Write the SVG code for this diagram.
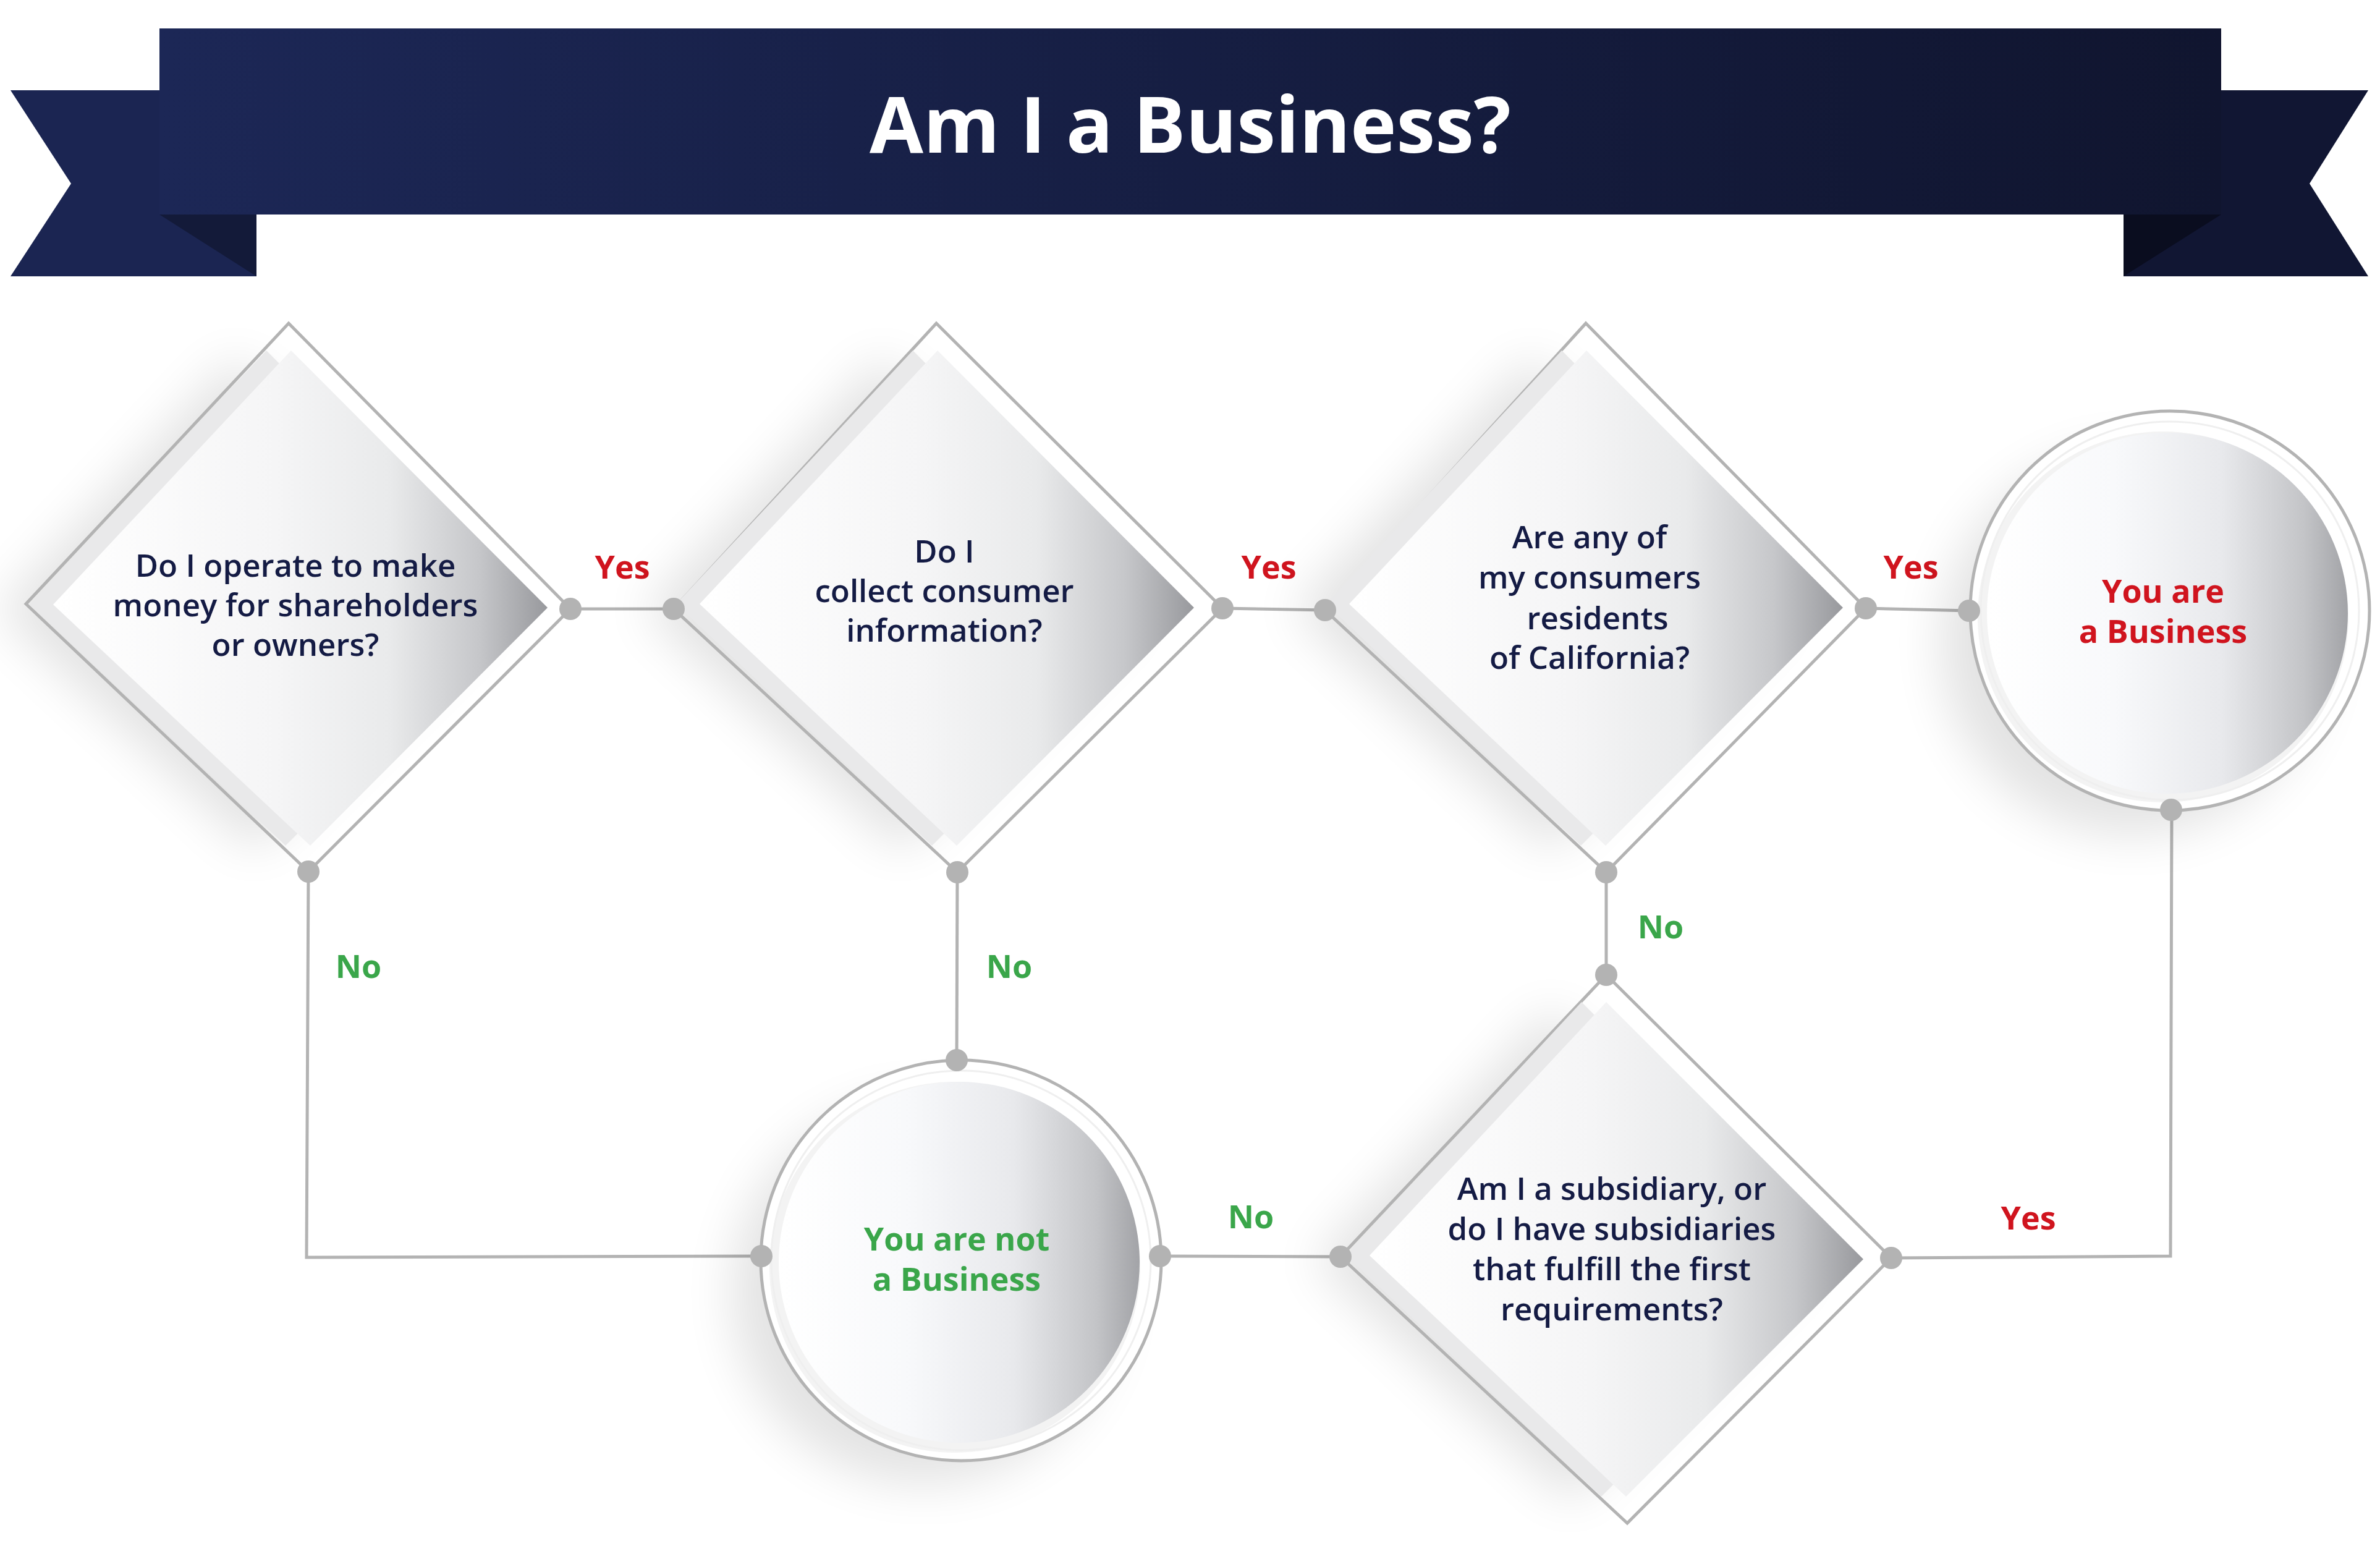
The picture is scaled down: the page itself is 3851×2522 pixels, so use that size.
<svg xmlns="http://www.w3.org/2000/svg" width="3851" height="2522" viewBox="0 0 3851 2522">
<defs>
<linearGradient id="bannerGrad" x1="0" y1="0" x2="1" y2="0">
<stop offset="0" stop-color="#1c2756"/>
<stop offset="1" stop-color="#10152f"/>
</linearGradient>
<linearGradient id="faceGrad" x1="0" y1="0" x2="1" y2="0">
<stop offset="0" stop-color="#ffffff"/>
<stop offset="0.45" stop-color="#f5f5f6"/>
<stop offset="0.68" stop-color="#e9eaeb"/>
<stop offset="0.86" stop-color="#c6c7ca"/>
<stop offset="1" stop-color="#98999d"/>
</linearGradient>
<linearGradient id="circleGrad" x1="0" y1="0" x2="1" y2="0">
<stop offset="0" stop-color="#ffffff"/>
<stop offset="0.35" stop-color="#f8f9fb"/>
<stop offset="0.65" stop-color="#e8e9ec"/>
<stop offset="0.88" stop-color="#c3c4c7"/>
<stop offset="1" stop-color="#a2a3a7"/>
</linearGradient>
<filter id="shadow" x="-50%" y="-50%" width="200%" height="200%">
<feGaussianBlur stdDeviation="40"/>
</filter>
<style>
.outline{fill:none;stroke:#b3b3b3;stroke-width:5;stroke-linejoin:miter}
.band{fill:#e9e9ea}
.face{fill:url(#faceGrad)}
.shade{fill:#000;opacity:0.11;filter:url(#shadow)}
.ring{fill:#ffffff;stroke:#b3b3b3;stroke-width:5}
.inring{fill:none;stroke:#efefef;stroke-width:3}
.cface{fill:url(#circleGrad)}
.conn{fill:none;stroke:#b3b3b3;stroke-width:5}
.dot{fill:#b3b3b3}
.q{font-family:"Open Sans","Noto Sans","DejaVu Sans",sans-serif;font-weight:600;font-size:51px;fill:#141b44;text-anchor:middle}
.end{font-family:"Open Sans","Noto Sans","DejaVu Sans",sans-serif;font-weight:700;font-size:52px;text-anchor:middle}
.lbl{font-family:"Open Sans","Noto Sans","DejaVu Sans",sans-serif;font-weight:700;font-size:52px;text-anchor:middle}
.red{fill:#d0141e}
.green{fill:#3aa64a}
</style>
</defs>
<rect width="3851" height="2522" fill="#ffffff"/>

<g id="banner">
<polygon points="17,146 415,146 415,447 17,447 115,297" fill="#1b2552"/>
<polygon points="3832,146 3436,146 3436,447 3832,447 3737,297" fill="#111633"/>
<polygon points="258,347 415,347 415,447" fill="#131a39"/>
<polygon points="3436,347 3594,347 3436,447" fill="#0a0d1f"/>
<rect x="258" y="46" width="3336" height="301" fill="url(#bannerGrad)"/>
<text x="1926" y="247" font-family="'Open Sans','Noto Sans','DejaVu Sans',sans-serif" font-weight="700" font-size="126" fill="#ffffff" text-anchor="middle">Am I a Business?</text>
</g>

<g id="connectors">
<path class="conn" d="M923,985 L1090,985"/>
<path class="conn" d="M1978,984 L2144,987"/>
<path class="conn" d="M3019,984 L3186,988"/>
<path class="conn" d="M499,1410 L496,2034 L1232,2032"/>
<path class="conn" d="M1549,1411 L1548,1715"/>
<path class="conn" d="M2599,1411 L2599,1577"/>
<path class="conn" d="M1877,2032 L2169,2033"/>
<path class="conn" d="M3060,2035 L3512,2032 L3514,1310"/>
<text class="lbl red" x="1007" y="936">Yes</text>
<text class="lbl red" x="2053" y="936">Yes</text>
<text class="lbl red" x="3092" y="936">Yes</text>
<text class="lbl red" x="3282" y="1989">Yes</text>
<text class="lbl green" x="580" y="1582">No</text>
<text class="lbl green" x="1633" y="1582">No</text>
<text class="lbl green" x="2687" y="1518">No</text>
<text class="lbl green" x="2024" y="1987">No</text>
</g>

<g id="q1">
<polygon class="shade" points="381,577 796,993 412,1378 -4,988"/>
<polygon class="outline" points="467,523 923,985 499,1410 42,977"/>
<polygon class="band" points="431,567 846,983 462,1368 48,978"/>
<polygon class="face" points="471,567 886,983 502,1368 86,978"/>
<text class="q" x="478" y="933">Do I operate to make</text>
<text class="q" x="478" y="997">money for shareholders</text>
<text class="q" x="478" y="1061">or owners?</text>
</g>

<g id="q2">
<polygon class="shade" points="1427,577 1842,993 1458,1378 1042,987"/>
<polygon class="outline" points="1515,523 1978,984 1549,1411 1090,985"/>
<polygon class="band" points="1477,567 1892,983 1508,1368 1094,977"/>
<polygon class="face" points="1517,567 1932,983 1548,1368 1132,977"/>
<text class="q" x="1528" y="910">Do I</text>
<text class="q" x="1528" y="974">collect consumer</text>
<text class="q" x="1528" y="1038">information?</text>
</g>

<g id="q3">
<polygon class="shade" points="2477,577 2892,993 2508,1378 2093,987"/>
<polygon class="outline" points="2566,523 3019,984 2599,1411 2144,987"/>
<polygon class="band" points="2527,567 2942,983 2558,1368 2146,977"/>
<polygon class="face" points="2567,567 2982,983 2598,1368 2183,977"/>
<text class="q" x="2572" y="887">Are any of</text>
<text class="q" x="2572" y="952">my consumers</text>
<text class="q" x="2585" y="1018">residents</text>
<text class="q" x="2572" y="1082">of California?</text>
</g>

<g id="q4">
<polygon class="shade" points="2509,1631 2925,2047 2541,2431 2126,2041"/>
<polygon class="outline" points="2599,1577 3060,2035 2633,2464 2169,2033"/>
<polygon class="band" points="2559,1621 2975,2037 2591,2421 2178,2031"/>
<polygon class="face" points="2599,1621 3015,2037 2631,2421 2216,2031"/>
<text class="q" x="2608" y="1941">Am I a subsidiary, or</text>
<text class="q" x="2608" y="2006">do I have subsidiaries</text>
<text class="q" x="2608" y="2071">that fulfill the first</text>
<text class="q" x="2608" y="2136">requirements?</text>
</g>

<g id="end-business">
<circle class="shade" cx="3450" cy="1040" r="310"/>
<circle class="ring" cx="3511" cy="988" r="323"/>
<circle cx="3500" cy="998" r="300" fill="#f3f3f3"/>
<circle class="inring" cx="3511" cy="988" r="306"/>
<circle class="cface" cx="3507" cy="992" r="292"/>
<text class="end red" x="3500" y="975">You are</text>
<text class="end red" x="3500" y="1040">a Business</text>
</g>

<g id="end-not-business">
<circle class="shade" cx="1495" cy="2090" r="310"/>
<circle class="ring" cx="1555" cy="2039" r="324"/>
<circle cx="1545" cy="2050" r="300" fill="#f3f3f3"/>
<circle class="inring" cx="1555" cy="2039" r="307"/>
<circle class="cface" cx="1552" cy="2042" r="292"/>
<text class="end green" x="1548" y="2023">You are not</text>
<text class="end green" x="1548" y="2088">a Business</text>
</g>

<g id="dots">
<circle class="dot" cx="923" cy="985" r="18"/>
<circle class="dot" cx="1090" cy="985" r="18"/>
<circle class="dot" cx="1978" cy="984" r="18"/>
<circle class="dot" cx="2144" cy="987" r="18"/>
<circle class="dot" cx="3019" cy="984" r="18"/>
<circle class="dot" cx="3186" cy="988" r="18"/>
<circle class="dot" cx="499" cy="1410" r="18"/>
<circle class="dot" cx="1549" cy="1411" r="18"/>
<circle class="dot" cx="2599" cy="1411" r="18"/>
<circle class="dot" cx="2599" cy="1577" r="18"/>
<circle class="dot" cx="1548" cy="1715" r="18"/>
<circle class="dot" cx="1232" cy="2032" r="18"/>
<circle class="dot" cx="1877" cy="2032" r="18"/>
<circle class="dot" cx="2169" cy="2033" r="18"/>
<circle class="dot" cx="3060" cy="2035" r="18"/>
<circle class="dot" cx="3513" cy="1310" r="18"/>
</g>
</svg>
